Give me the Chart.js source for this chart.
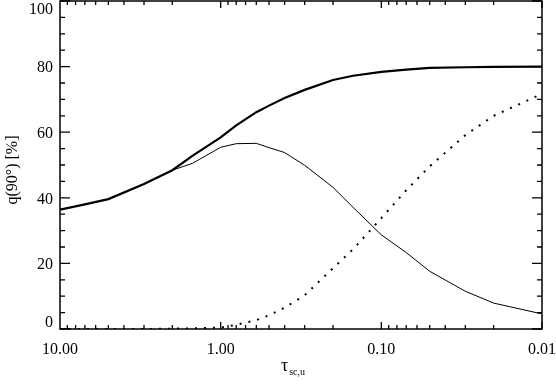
<!DOCTYPE html>
<html>
<head>
<meta charset="utf-8">
<script src="https://cdn.jsdelivr.net/npm/chart.js@4.4.0/dist/chart.umd.min.js"></script>
<style>
  html, body { margin: 0; padding: 0; background: #fff; }
</style>
</head>
<body>
<canvas id="myChart" width="556" height="385"></canvas>
<script>
// optical depth samples (x axis, log scale, reversed)
const tau = [10, 7, 5, 3, 2, 1.5, 1, 0.8, 0.6, 0.5, 0.4, 0.3, 0.2, 0.15, 0.1, 0.07, 0.05, 0.03, 0.02, 0.01];

// polarisation q(90°) in %
const qThick  = [36.4, 38.0, 39.6, 44.2, 48.4, 52.8, 58.4, 62.1, 66.1, 68.1, 70.4, 72.9, 75.9, 77.2, 78.4, 79.1, 79.6, 79.8, 79.9, 80.0];
const qThin   = [36.4, 38.0, 39.6, 44.2, 48.4, 50.5, 55.4, 56.5, 56.6, 55.3, 53.8, 49.9, 43.2, 37.1, 28.7, 23.3, 17.6, 11.5, 7.9, 4.6];
const qDotted = [0, 0, 0, 0, 0.1, 0.2, 0.4, 1.3, 2.7, 4.2, 6.5, 10.3, 18.5, 24.3, 33.8, 42.3, 49.6, 59.1, 65.0, 71.7];

// tick labels
const xTicks = [10, 1, 0.1, 0.01];
const yTicks = [0, 20, 40, 60, 80, 100];

const serif = "'Liberation Serif', 'DejaVu Serif', serif";

function pts(vals) {
  return tau.map((t, i) => ({ x: t, y: vals[i] }));
}

// Frame with inward ticks (IDL style), y labels and axis titles
const framePlugin = {
  id: 'frame',
  afterDatasetsDraw(chart) {
    const { ctx, chartArea: a, scales: { x, y } } = chart;
    ctx.save();
    ctx.strokeStyle = '#000';
    ctx.lineWidth = 1.5;
    ctx.strokeRect(a.left, a.top, a.right - a.left, a.bottom - a.top);

    ctx.lineWidth = 1.3;
    ctx.beginPath();
    // log ticks top and bottom
    for (let d = -2; d <= 0; d++) {
      for (let m = 1; m <= 9; m++) {
        const px = x.getPixelForValue(m * Math.pow(10, d));
        const len = m === 1 ? 7 : 4;
        ctx.moveTo(px, a.bottom); ctx.lineTo(px, a.bottom - len);
        ctx.moveTo(px, a.top); ctx.lineTo(px, a.top + len);
      }
    }
    // linear ticks left and right
    for (let v = 0; v <= 100; v += 5) {
      const py = y.getPixelForValue(v);
      const len = v % 20 === 0 ? 10 : 5;
      ctx.moveTo(a.left, py); ctx.lineTo(a.left + len, py);
      ctx.moveTo(a.right, py); ctx.lineTo(a.right - len, py);
    }
    ctx.stroke();

    // y tick labels
    ctx.fillStyle = '#000';
    ctx.font = '16px ' + serif;
    ctx.textAlign = 'right';
    ctx.textBaseline = 'middle';
    yTicks.forEach(v => {
      const py = Math.min(Math.max(y.getPixelForValue(v) + 1.5, 10), 323);
      ctx.fillText(String(v), a.left - 7, py);
    });

    // y title
    ctx.save();
    ctx.translate(13, 170);
    ctx.rotate(-Math.PI / 2);
    ctx.textAlign = 'center';
    ctx.fillText('q(90°) [%]', 0, 0);
    ctx.restore();

    // x title: tau with subscript
    ctx.textAlign = 'left';
    ctx.textBaseline = 'alphabetic';
    ctx.font = '18px ' + serif;
    const wT = ctx.measureText('τ').width;
    ctx.font = '10px ' + serif;
    const wS = ctx.measureText('sc,u').width;
    const x0 = 293 - (wT + wS + 1) / 2;
    ctx.font = '18px ' + serif;
    ctx.fillText('τ', x0, 371);
    ctx.font = '10px ' + serif;
    ctx.fillText('sc,u', x0 + wT + 1, 375);
    ctx.restore();
  }
};

new Chart(document.getElementById('myChart'), {
  type: 'line',
  data: {
    datasets: [
      { data: pts(qThick), borderColor: '#000', borderWidth: 2.2, pointRadius: 0, tension: 0 },
      { data: pts(qThin), borderColor: '#000', borderWidth: 1, pointRadius: 0, tension: 0 },
      { data: pts(qDotted), borderColor: '#000', borderWidth: 2, borderDash: [2, 7], pointRadius: 0, tension: 0 }
    ]
  },
  options: {
    responsive: false,
    animation: false,
    layout: { padding: { left: 0, right: 14, top: 1, bottom: 0 } },
    plugins: { legend: { display: false }, tooltip: { enabled: false } },
    scales: {
      x: {
        type: 'logarithmic',
        reverse: true,
        min: 0.01,
        max: 10,
        grid: { display: false, drawTicks: false },
        border: { display: false },
        afterBuildTicks: s => { s.ticks = xTicks.map(v => ({ value: v })); },
        afterFit: s => { s.height = 56; s.paddingLeft = 0; s.paddingRight = 0; },
        ticks: {
          color: '#000',
          font: { family: serif, size: 16 },
          padding: 11,
          maxRotation: 0,
          autoSkip: false,
          callback: v => Number(v).toFixed(2)
        }
      },
      y: {
        min: 0,
        max: 100,
        grid: { display: false },
        border: { display: false },
        ticks: { display: false },
        afterFit: s => { s.width = 60; s.paddingTop = 0; s.paddingBottom = 0; }
      }
    }
  },
  plugins: [framePlugin]
});
</script>
</body>
</html>
